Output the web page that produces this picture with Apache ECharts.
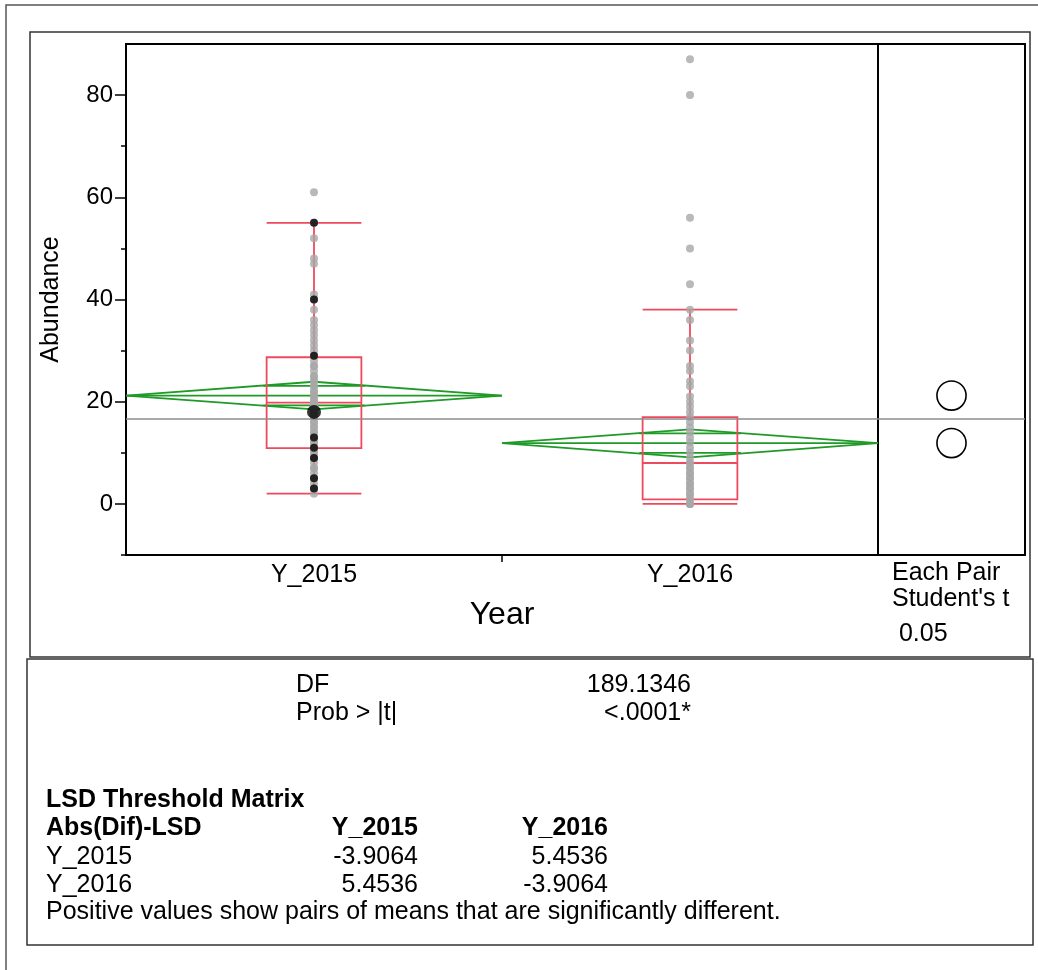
<!DOCTYPE html>
<html>
<head>
<meta charset="utf-8">
<script src="https://cdn.jsdelivr.net/npm/echarts@6/dist/echarts.min.js"></script>
<style>
  html, body { margin: 0; padding: 0; background: #fff; }
  #chart { width: 1038px; height: 970px; }
</style>
</head>
<body>
<div id="chart"></div>
<script>
// ---- Data -------------------------------------------------------------
const years = ['Y_2015', 'Y_2016'];

// Individual abundance observations per year
const abundance2015 = [61, 55, 52, 48, 47, 41, 40, 38, 36, 35, 34, 33, 32, 31, 30, 29, 29, 28, 27, 27,
  26, 25, 25, 24, 24, 23, 23, 22, 22, 21, 21, 21, 20, 20, 20, 19, 19, 19, 18, 18, 18, 17, 17, 16, 16,
  15, 15, 14, 14, 13, 13, 12, 12, 11, 11, 10, 10, 9, 9, 8, 7, 7, 6, 5, 5, 4, 3, 3, 2];
const abundance2016 = [87, 80, 56, 50, 43, 38, 36, 32, 30, 27, 26, 24, 23, 21, 20, 19, 18, 17, 16, 15,
  14, 13, 12, 11, 10, 9, 8, 8, 7, 7, 6, 6, 5, 5, 4, 4, 3, 3, 2, 2, 1, 1, 0, 0, 0];

// Highlighted (selected) rows in 2015
const marked2015 = [55, 40, 29, 13, 11, 9, 5, 3];
const markedLarge2015 = [18];

// Means diamonds (mean and 95% confidence interval)
const means = [21.2, 11.9];
const ciLow = [18.5, 9.1];
const ciHigh = [23.9, 14.6];
const grandMean = 16.7;

// Outlier box plots
const whiskerLow = [2, 0];
const quartile1 = [10.9, 0.9];
const medians = [19.8, 8.0];
const quartile3 = [28.7, 17.0];
const whiskerHigh = [55, 38];

// Comparison circles (Each Pair, Student's t, 0.05)
const circleCenters = [21.2, 11.9];
const circleRadii = [2.85, 2.85];

// Axis ticks
const yMajorTicks = [0, 20, 40, 60, 80];
const yMinorTicks = [-10, 10, 30, 50, 70];

// Report table
const dfLabel = 'DF';
const dfValue = '189.1346';
const probLabel = 'Prob > |t|';
const probValue = '<.0001*';
const lsdTitle = 'LSD Threshold Matrix';
const lsdCorner = 'Abs(Dif)-LSD';
const lsdRow2015 = ['-3.9064', '5.4536'];
const lsdRow2016 = ['5.4536', '-3.9064'];
const lsdNote = 'Positive values show pairs of means that are significantly different.';
const circleCaption = ['Each Pair', "Student's t", ' 0.05'];

// ---- Styling ----------------------------------------------------------
const FONT = '"Liberation Sans", Arial, Helvetica, sans-serif';
const RED = '#EE4A5D';
const GREEN = '#1F9A27';
const GREY_PT = '#A8A8A8';
const BOX_HALF = 0.126;
const OVERLAP_HALF = 0.135;
const TXT = 25;

const chart = echarts.init(document.getElementById('chart'), null, { renderer: 'canvas' });

const pts = (arr, idx) => arr.map(v => [idx + 0.5, v]);

function renderBox(params, api) {
  const x = api.value(0);
  const lo = api.value(1), q1 = api.value(2), med = api.value(3), q3 = api.value(4), hi = api.value(5);
  const a = api.coord([x - BOX_HALF, q3]);
  const b = api.coord([x + BOX_HALF, q1]);
  const pMed1 = api.coord([x - BOX_HALF, med]), pMed2 = api.coord([x + BOX_HALF, med]);
  const pLo = api.coord([x, lo]), pHi = api.coord([x, hi]);
  const pLoL = api.coord([x - BOX_HALF, lo]), pLoR = api.coord([x + BOX_HALF, lo]);
  const pHiL = api.coord([x - BOX_HALF, hi]), pHiR = api.coord([x + BOX_HALF, hi]);
  const st = { stroke: RED, lineWidth: 1.8, fill: null };
  return {
    type: 'group',
    children: [
      { type: 'rect', shape: { x: a[0], y: a[1], width: b[0] - a[0], height: b[1] - a[1] }, style: st },
      { type: 'line', shape: { x1: pMed1[0], y1: pMed1[1], x2: pMed2[0], y2: pMed2[1] }, style: st },
      { type: 'line', shape: { x1: pHi[0], y1: pHi[1], x2: pHi[0], y2: a[1] }, style: st },
      { type: 'line', shape: { x1: pLo[0], y1: b[1], x2: pLo[0], y2: pLo[1] }, style: st },
      { type: 'line', shape: { x1: pHiL[0], y1: pHiL[1], x2: pHiR[0], y2: pHiR[1] }, style: st },
      { type: 'line', shape: { x1: pLoL[0], y1: pLoL[1], x2: pLoR[0], y2: pLoR[1] }, style: st }
    ]
  };
}

function renderDiamond(params, api) {
  const x = api.value(0);
  const m = api.value(1), lo = api.value(2), hi = api.value(3);
  const ov = (hi - m) / Math.SQRT2;
  const L = api.coord([x - 0.5, m]), R = api.coord([x + 0.5, m]);
  const T = api.coord([x, hi]), B = api.coord([x, lo]);
  const o1a = api.coord([x - OVERLAP_HALF, m + ov]), o1b = api.coord([x + OVERLAP_HALF, m + ov]);
  const o2a = api.coord([x - OVERLAP_HALF, m - ov]), o2b = api.coord([x + OVERLAP_HALF, m - ov]);
  const st = { stroke: GREEN, lineWidth: 1.8, fill: null };
  return {
    type: 'group',
    children: [
      { type: 'polygon', shape: { points: [L, T, R, B] }, style: st },
      { type: 'line', shape: { x1: L[0], y1: L[1], x2: R[0], y2: R[1] }, style: st },
      { type: 'line', shape: { x1: o1a[0], y1: o1a[1], x2: o1b[0], y2: o1b[1] }, style: st },
      { type: 'line', shape: { x1: o2a[0], y1: o2a[1], x2: o2b[0], y2: o2b[1] }, style: st }
    ]
  };
}

function renderCircle(params, api) {
  const c = api.coord([0.5, api.value(0)]);
  const r = api.size([0, api.value(1)])[1];
  return { type: 'circle', shape: { cx: c[0], cy: c[1], r: r }, style: { stroke: '#000', lineWidth: 1.6, fill: null } };
}

function txt(text, x, y, align, size, bold) {
  return {
    type: 'text', x: x, y: y, z: 10, silent: true,
    style: { text: text, fill: '#000', align: align || 'left', verticalAlign: 'middle',
      font: (bold ? 'bold ' : '') + (size || TXT) + 'px ' + FONT }
  };
}

const frameStroke = { fill: null, stroke: '#333', lineWidth: 1.5 };
const meanLine = {
  silent: true, symbol: 'none', label: { show: false },
  lineStyle: { color: '#8C8C8C', type: 'solid', width: 1.5 },
  data: [{ yAxis: grandMean }]
};

const option = {
  backgroundColor: '#fff',
  animation: false,
  textStyle: { fontFamily: FONT },
  grid: [
    { left: 126, top: 44, width: 752, height: 511, show: true, borderColor: '#000', borderWidth: 2, backgroundColor: 'transparent' },
    { left: 878, top: 44, width: 147, height: 511, show: true, borderColor: '#000', borderWidth: 2, backgroundColor: 'transparent' }
  ],
  xAxis: [
    {
      gridIndex: 0, type: 'value', min: 0, max: 2,
      axisLine: { show: true, onZero: false, lineStyle: { color: '#000', width: 2 } },
      axisTick: { show: true, customValues: [1], length: 7, lineStyle: { color: '#000', width: 1.5 } },
      axisLabel: { customValues: [0.5, 1.5], formatter: v => years[Math.round(v - 0.5)], color: '#000', fontSize: TXT, margin: 8, fontFamily: FONT },
      splitLine: { show: false },
      name: 'Year', nameLocation: 'middle', nameGap: 44,
      nameTextStyle: { color: '#000', fontSize: 32, fontFamily: FONT }
    },
    { gridIndex: 1, type: 'value', min: 0, max: 1, show: false }
  ],
  yAxis: [
    {
      gridIndex: 0, type: 'value', min: -10, max: 90,
      axisLine: { show: true, onZero: false, lineStyle: { color: '#000', width: 2 } },
      axisTick: { show: true, customValues: yMajorTicks, length: 11, lineStyle: { color: '#000', width: 1.5 } },
      axisLabel: { customValues: yMajorTicks, color: '#000', fontSize: 24, margin: 13, fontFamily: FONT },
      splitLine: { show: false },
      name: 'Abundance', nameLocation: 'middle', nameGap: 62,
      nameTextStyle: { color: '#000', fontSize: 25, fontFamily: FONT }
    },
    {
      gridIndex: 0, type: 'value', min: -10, max: 90, position: 'left',
      axisLine: { show: false, onZero: false },
      axisTick: { show: true, customValues: yMinorTicks, length: 5, lineStyle: { color: '#000', width: 1.5 } },
      axisLabel: { show: false },
      splitLine: { show: false }
    },
    { gridIndex: 1, type: 'value', min: -10, max: 90, show: false }
  ],
  series: [
    {
      type: 'custom', name: 'diamonds', xAxisIndex: 0, yAxisIndex: 0, z: 2,
      renderItem: renderDiamond,
      encode: { x: 0, y: [1, 2, 3] },
      data: years.map((y, i) => [i + 0.5, means[i], ciLow[i], ciHigh[i]]),
      markLine: meanLine
    },
    {
      type: 'custom', name: 'boxes', xAxisIndex: 0, yAxisIndex: 0, z: 3,
      renderItem: renderBox,
      encode: { x: 0, y: [1, 2, 3, 4, 5] },
      data: years.map((y, i) => [i + 0.5, whiskerLow[i], quartile1[i], medians[i], quartile3[i], whiskerHigh[i]])
    },
    {
      type: 'scatter', name: 'Y_2015', xAxisIndex: 0, yAxisIndex: 0, z: 4,
      symbolSize: 8, itemStyle: { color: GREY_PT }, data: pts(abundance2015, 0)
    },
    {
      type: 'scatter', name: 'Y_2016', xAxisIndex: 0, yAxisIndex: 0, z: 4,
      symbolSize: 8, itemStyle: { color: GREY_PT }, data: pts(abundance2016, 1)
    },
    {
      type: 'scatter', name: 'marked', xAxisIndex: 0, yAxisIndex: 0, z: 5,
      symbolSize: 8, itemStyle: { color: '#000' }, data: pts(marked2015, 0)
    },
    {
      type: 'scatter', name: 'markedLarge', xAxisIndex: 0, yAxisIndex: 0, z: 5,
      symbolSize: 14, itemStyle: { color: '#000' }, data: pts(markedLarge2015, 0)
    },
    {
      type: 'custom', name: 'circles', xAxisIndex: 1, yAxisIndex: 2, z: 3,
      renderItem: renderCircle,
      encode: { y: 0 },
      data: circleCenters.map((c, i) => [c, circleRadii[i]]),
      markLine: meanLine
    }
  ],
  graphic: [
    { type: 'rect', z: 0, silent: true, shape: { x: 6, y: 5, width: 1200, height: 1200 }, style: { fill: null, stroke: '#555', lineWidth: 1.5 } },
    { type: 'rect', z: 0, silent: true, shape: { x: 30, y: 32, width: 1000, height: 625 }, style: frameStroke },
    { type: 'rect', z: 0, silent: true, shape: { x: 27, y: 659, width: 1006, height: 286 }, style: frameStroke },
    txt(circleCaption[0], 892, 573),
    txt(circleCaption[1], 892, 599),
    txt(circleCaption[2], 892, 634),
    txt(dfLabel, 296, 685),
    txt(dfValue, 691, 685, 'right'),
    txt(probLabel, 296, 713),
    txt(probValue, 691, 713, 'right'),
    txt(lsdTitle, 46, 800, 'left', TXT, true),
    txt(lsdCorner, 46, 828, 'left', TXT, true),
    txt(years[0], 418, 828, 'right', TXT, true),
    txt(years[1], 608, 828, 'right', TXT, true),
    txt(years[0], 46, 857),
    txt(lsdRow2015[0], 418, 857, 'right'),
    txt(lsdRow2015[1], 608, 857, 'right'),
    txt(years[1], 46, 885),
    txt(lsdRow2016[0], 418, 885, 'right'),
    txt(lsdRow2016[1], 608, 885, 'right'),
    txt(lsdNote, 46, 912)
  ]
};

chart.setOption(option);
</script>
</body>
</html>
